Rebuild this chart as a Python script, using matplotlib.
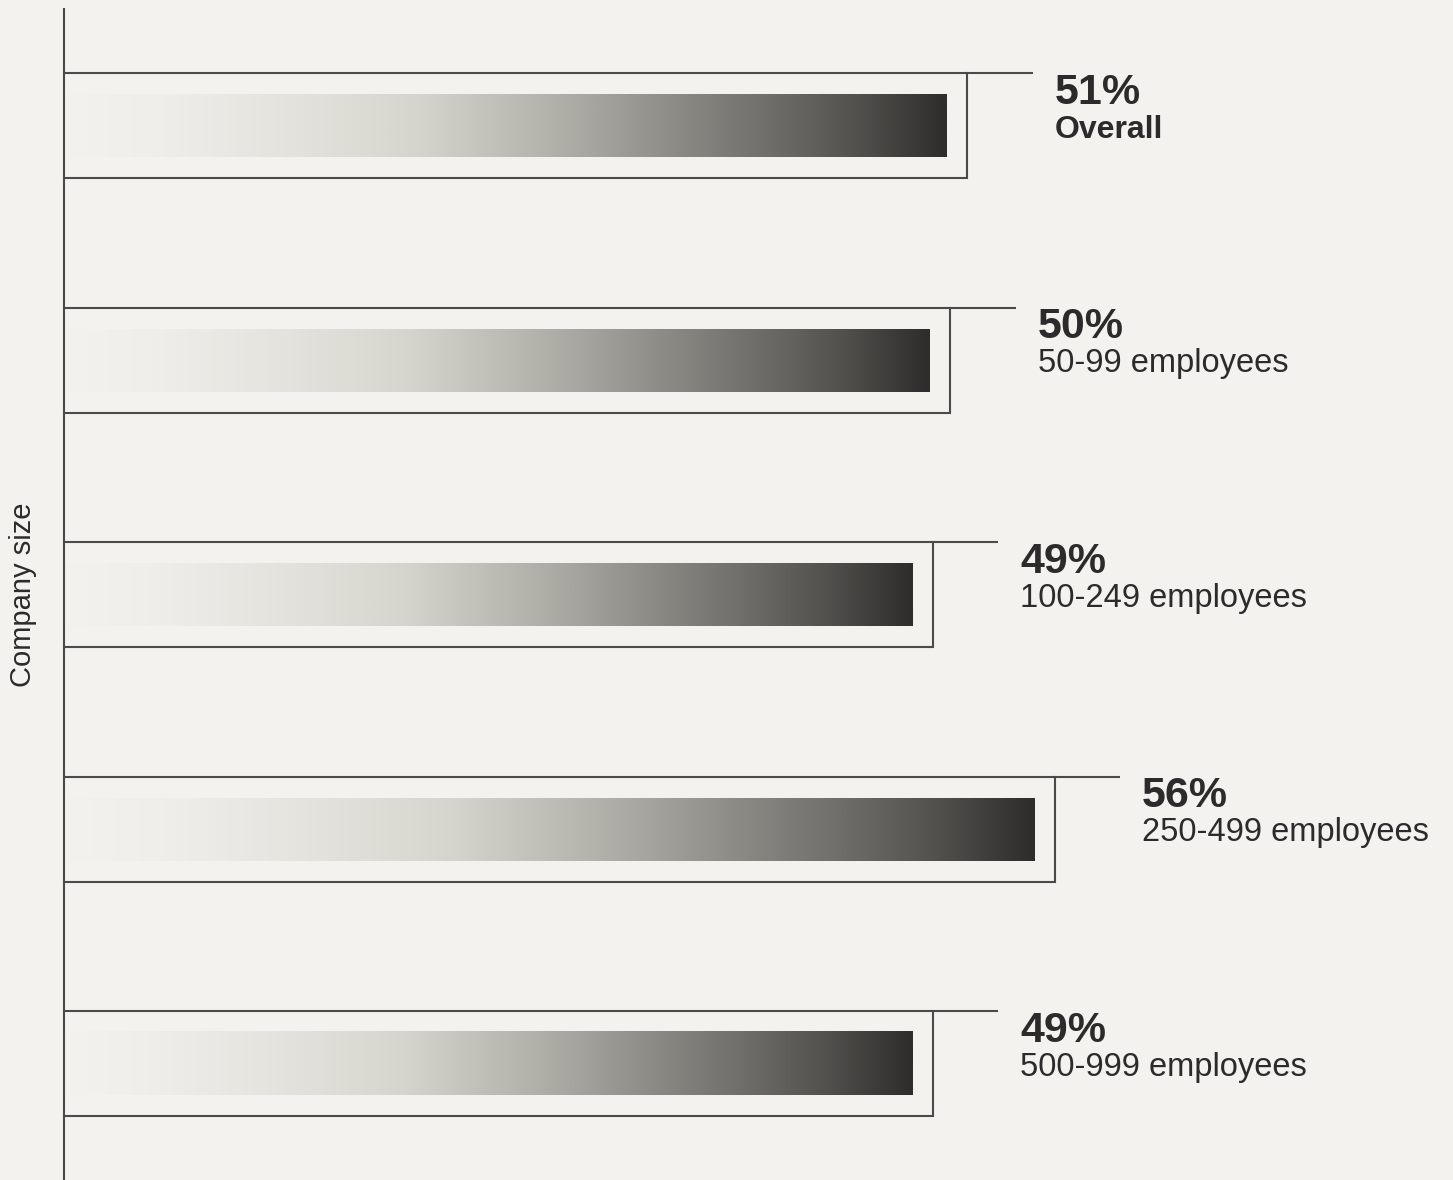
import numpy as np
import matplotlib.pyplot as plt
from matplotlib.colors import LinearSegmentedColormap

# ---- data ----
categories = ["Overall", "50-99 employees", "100-249 employees", "250-499 employees", "500-999 employees"]
values = [51, 50, 49, 56, 49]
value_labels = ["51%", "50%", "49%", "56%", "49%"]
axis_label = "Company size"

BG = "#f3f2ee"
LINE = "#4a4a48"
TXT = "#2b2b2b"
plt.rcParams['font.family'] = ['Liberation Sans', 'DejaVu Sans']

fig = plt.figure(figsize=(14.53, 11.8), dpi=100, facecolor=BG)
ax = fig.add_axes([0, 0, 1, 1])
ax.set_facecolor(BG)

px_per_unit = 17.43
x0_px = 58.0
ax.set_xlim(-x0_px / px_per_unit, (1453 - x0_px) / px_per_unit)
row_px = 234.6
c0_px = 125.5
ax.set_ylim((1180 - c0_px) / row_px, -c0_px / row_px)
ax.axis('off')

axis_x = (64 - x0_px) / px_per_unit
bar_h = 63 / row_px
box_h = 105 / row_px
ext = 86 / px_per_unit
gap = 20.5 / px_per_unit
text_dx = 22 / px_per_unit

cmap = LinearSegmentedColormap.from_list("grad", [
    (0.0, "#f3f2ee"), (0.1, "#efeeea"), (0.25, "#e4e3de"), (0.4, "#d6d5cd"),
    (0.5, "#bfbeb6"), (0.6, "#a6a59f"), (0.7, "#8a8984"), (0.8, "#6f6e6a"),
    (0.9, "#52514e"), (1.0, "#2e2d2b")])
grad = np.linspace(0, 1, 512).reshape(1, -1)

# axis line
ax.plot([axis_x, axis_x], [4.495, (8 - c0_px) / row_px], color=LINE, lw=1.5,
        solid_capstyle='butt', zorder=3)

for i, (cat, v, lab) in enumerate(zip(categories, values, value_labels)):
    ax.imshow(grad, cmap=cmap, aspect='auto', interpolation='bilinear',
              extent=(axis_x, v, i + bar_h / 2, i - bar_h / 2), zorder=2)
    top = i - box_h / 2
    bot = i + box_h / 2
    ax.plot([axis_x, v + ext], [top, top], color=LINE, lw=1.5, zorder=3,
            solid_capstyle='butt')
    ax.plot([axis_x, v + gap, v + gap], [bot, bot, top], color=LINE, lw=1.5,
            zorder=3, solid_joinstyle='miter')
    tx = v + ext + text_dx
    ax.text(tx, i - 22 / row_px, lab, fontsize=31, fontweight='bold', color=TXT,
            ha='left', va='baseline')
    ax.text(tx, i + 12 / row_px, cat, fontsize=23 if i == 0 else 23.5,
            fontweight='bold' if i == 0 else 'normal', color=TXT,
            ha='left', va='baseline')

ax.text(23 / 1453, 1 - 595 / 1180, axis_label, transform=fig.transFigure,
        rotation=90, fontsize=21, color=TXT, ha='center', va='center')

ax.set_xlim(-x0_px / px_per_unit, (1453 - x0_px) / px_per_unit)
ax.set_ylim((1180 - c0_px) / row_px, -c0_px / row_px)

fig.savefig("out.png", dpi=100, facecolor=BG)
